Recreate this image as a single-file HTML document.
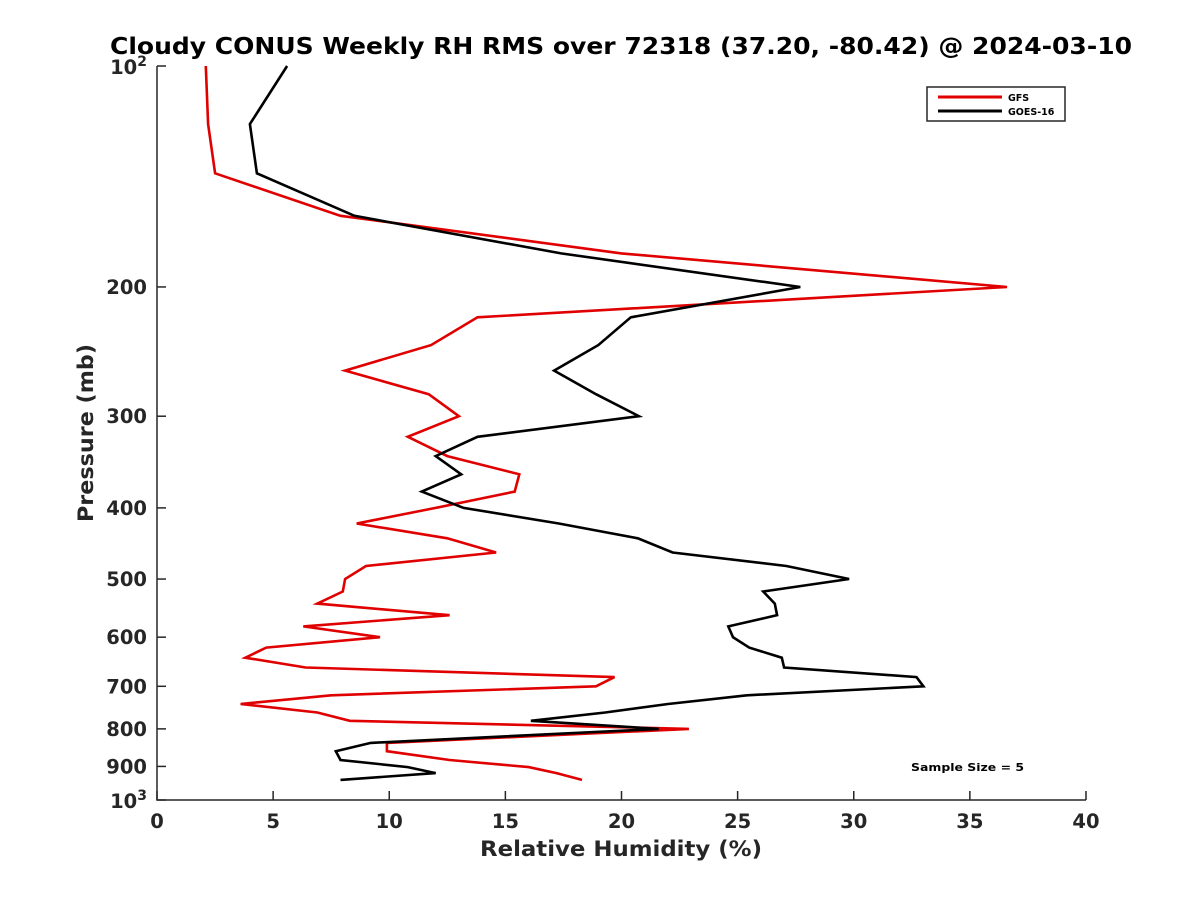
<!DOCTYPE html>
<html><head><meta charset="utf-8"><style>
body{margin:0;background:#fff}
svg{display:block;font-family:"DejaVu Sans","Liberation Sans",sans-serif}
</style></head><body>
<svg id="chart" width="1200" height="900" xmlns="http://www.w3.org/2000/svg">
<rect width="1200" height="900" fill="#fff"/>
<text x="110" y="54" font-size="23" font-weight="bold" textLength="1022" lengthAdjust="spacingAndGlyphs">Cloudy CONUS Weekly RH RMS over 72318 (37.20, -80.42) @ 2024-03-10</text>
<g id="axes"></g>
<g id="series"></g>
<text x="480" y="856" font-size="21" font-weight="bold" fill="#262626" textLength="282" lengthAdjust="spacingAndGlyphs">Relative Humidity (%)</text>
<text transform="translate(93,522) rotate(-90)" font-size="21" font-weight="bold" fill="#262626" textLength="178" lengthAdjust="spacingAndGlyphs">Pressure (mb)</text>
<text x="911" y="771" font-size="11" font-weight="bold" textLength="113" lengthAdjust="spacingAndGlyphs">Sample Size = 5</text>
<g>
<rect x="927" y="87" width="138" height="34" fill="#fff" stroke="#262626" stroke-width="1.5"/>
<line x1="938" y1="97" x2="1002" y2="97" stroke="#e00000" stroke-width="3"/>
<text x="1008" y="101" font-size="9.5" font-weight="bold">GFS</text>
<line x1="938" y1="111" x2="1002" y2="111" stroke="#000" stroke-width="3"/>
<text x="1008" y="115" font-size="9.5" font-weight="bold">GOES-16</text>
</g>
</svg>
<script>
const pressures=[100,120,140,160,180,200,220,240,260,280,300,320,340,360,380,400,420,440,460,480,500,520,540,560,580,600,620,640,660,680,700,720,740,760,780,800,836,858,882,902,919,939];
const gfsValues=[2.1,2.2,2.5,7.9,20.0,36.6,13.8,11.8,8.1,11.7,13.0,10.8,12.5,15.6,15.4,12.0,8.6,12.5,14.6,9.0,8.1,8.0,6.9,12.6,6.3,9.6,4.7,3.8,6.4,19.7,18.9,7.5,3.6,6.9,8.3,22.9,9.9,9.9,12.6,16.0,17.2,18.3];
const goesValues=[5.6,4.0,4.3,8.5,17.4,27.7,20.4,19.0,17.1,18.9,20.75,13.8,12.0,13.1,11.4,13.2,17.3,20.7,22.2,27.1,29.8,26.1,26.6,26.7,24.6,24.8,25.5,26.9,27.0,32.7,33.0,25.4,22.0,19.3,16.1,21.6,9.2,7.7,7.9,10.8,12.0,7.9];
const xTicks=[0,5,10,15,20,25,30,35,40];
const yTicks=[200,300,400,500,600,700,800,900];
const NS="http://www.w3.org/2000/svg";
const X0=157,X1=1086,Y0=66,Y1=800;
function xs(v){return X0+(v-0)/40*(X1-X0);}
function ys(p){return Y0+Math.log10(p/100)*(Y1-Y0);}
function mk(t,a,parent){const e=document.createElementNS(NS,t);for(const k in a)e.setAttribute(k,a[k]);parent.appendChild(e);return e;}
const axes=document.getElementById('axes');
const ax=mk('path',{d:`M${X0},${Y0}V${Y1}H${X1}`,fill:'none',stroke:'#262626','stroke-width':1.5},axes);


xTicks.forEach(v=>{
  const x=xs(v);
  mk('line',{x1:x,y1:Y1,x2:x,y2:Y1-9,stroke:'#262626','stroke-width':1.5},axes);
  const t=mk('text',{x:x,y:Y1+28,'text-anchor':'middle','font-size':19.5,'font-weight':'bold',fill:'#262626'},axes);
  t.textContent=v;
  
  
});
const yAll=[100].concat(yTicks,[1000]);
yAll.forEach(p=>{
  const y=ys(p);
  mk('line',{x1:X0,y1:y,x2:X0+9,y2:y,stroke:'#262626','stroke-width':1.5},axes);
  if(p===100||p===1000){
    const t=mk('text',{x:X0-10,y:y+8,'text-anchor':'end','font-size':19.5,'font-weight':'bold',fill:'#262626'},axes);
    t.innerHTML='10<tspan dy="-8" font-size="14">'+(p===100?'2':'3')+'</tspan>';
    
    
  } else {
    const t=mk('text',{x:X0-10,y:y+7,'text-anchor':'end','font-size':19.5,'font-weight':'bold',fill:'#262626'},axes);
    t.textContent=p;
    
    
  }
});
const series=document.getElementById('series');
function line(vals,color,name){
  const d=vals.map((v,i)=>(i?'L':'M')+xs(v).toFixed(1)+','+ys(pressures[i]).toFixed(1)).join('');
  const p=mk('path',{d:d,fill:'none',stroke:color,'stroke-width':2.6,'stroke-linejoin':'miter'},series);
  
  
}
line(gfsValues,'#e00000','gfs-line');
line(goesValues,'#000','goes16-line');
</script>
</body></html>
